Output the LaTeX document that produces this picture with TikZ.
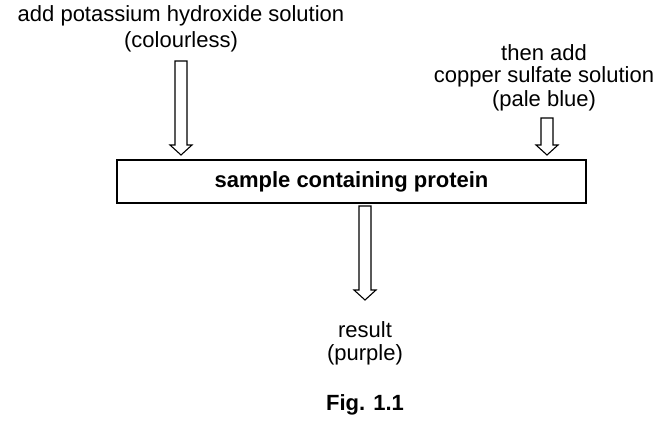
\documentclass[tikz,border=0pt]{standalone}
\usepackage{fontspec}
\setmainfont{Liberation Sans}
\newcommand\myharrow[3]{\draw[harrow] (#1-6,#2) -- (#1+6,#2) -- (#1+6,#3-10) -- (#1+11,#3-10) -- (#1,#3) -- (#1-11,#3-10) -- (#1-6,#3-10) -- cycle;}
\begin{document}
\begin{tikzpicture}[x=1pt,y=-1pt,
  lbl/.style={font=\fontsize{22}{24}\selectfont, inner sep=0pt, align=center},
  harrow/.style={draw=black, line width=1.1pt, fill=white, line join=miter}]
\useasboundingbox (0,0) rectangle (668,430);
\node[lbl, anchor=center] (t1) at (181,16) {add potassium hydroxide solution};
\node[lbl] (t2) at (181,42) {(colourless)};
\node[lbl] (r1) at (544,53) {then add};
\node[lbl] (r2) at (544,77) {copper sulfate solution};
\node[lbl] (r3) at (544,101) {(pale blue)};
\node[draw, line width=1.1pt, minimum width=469pt, minimum height=43pt, inner sep=0pt, font=\fontsize{22}{24}\selectfont\bfseries] (box) at (351.5,181.5) {sample containing protein};
\node[lbl] (res1) at (365,330) {result};
\node[lbl] (res2) at (365,355) {(purple)};
\node[lbl, font=\fontsize{22}{24}\selectfont\bfseries] (fig) at (365,405) {Fig. 1.1};
\myharrow{181}{61}{155}
\myharrow{547}{118}{155}
\myharrow{365}{206}{300}
\end{tikzpicture}
\end{document}
